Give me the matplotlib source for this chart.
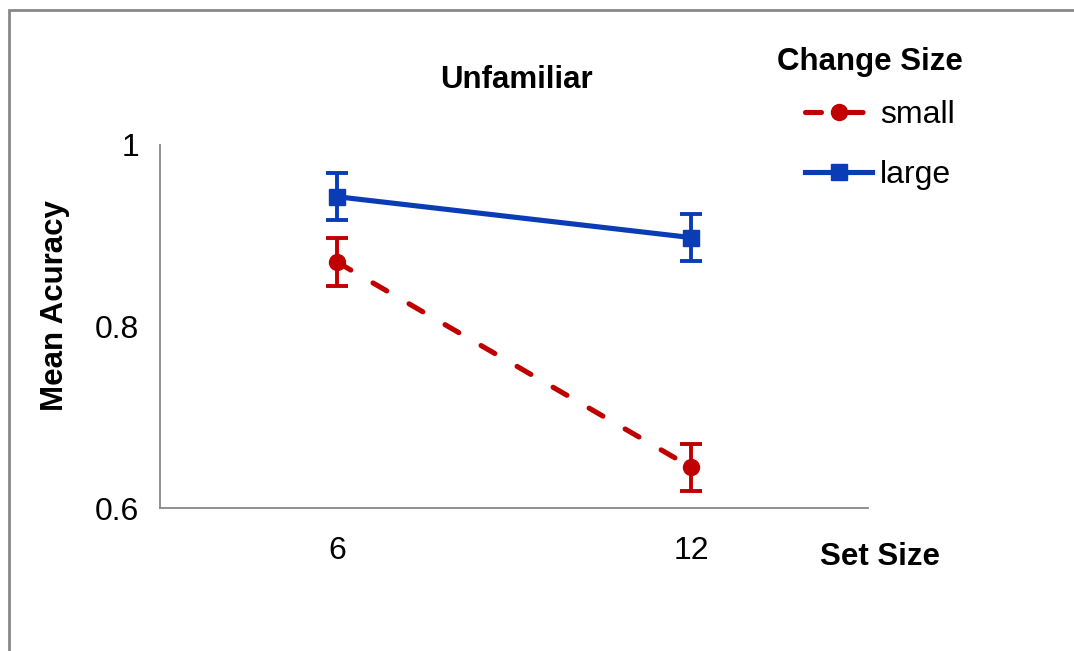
import matplotlib
matplotlib.use("Agg")
import matplotlib.pyplot as plt
from matplotlib.patches import Rectangle

plt.rcParams['font.family'] = ['Liberation Sans', 'DejaVu Sans']

set_sizes = ["6", "12"]
small_mean = [0.871, 0.645]
small_err = [0.026, 0.026]
large_mean = [0.943, 0.898]
large_err = [0.026, 0.026]

red = '#C00000'
blue = '#0A3DB5'
grey = '#888888'

fig = plt.figure(figsize=(10.74, 6.51), dpi=100)
ax = fig.add_axes([160/1074, 1-508/651, 708/1074, 363/651])

x = list(range(len(set_sizes)))
ax.errorbar(x, small_mean, yerr=small_err, color=red, lw=3.7, ls=(0, (3.1, 5.0)),
            marker='o', ms=11.5, capsize=8, capthick=2.8, elinewidth=2.8, label='small',
            dash_capstyle='round')
ax.errorbar(x, large_mean, yerr=large_err, color=blue, lw=3.7,
            marker='s', ms=11.5, capsize=8, capthick=2.8, elinewidth=2.8, label='large')

ax.set_xlim(-0.5, 1.5)
ax.set_ylim(0.6, 1.0)
ax.set_yticks([0.6, 0.8, 1.0])
ax.set_yticklabels(['0.6', '0.8', '1'])
ax.set_xticks(x)
ax.set_xticklabels(set_sizes)
ax.tick_params(length=0, labelsize=23)
ax.tick_params(axis='x', pad=20)
ax.tick_params(axis='y', pad=15)
for s in ['top', 'right']:
    ax.spines[s].set_visible(False)
for s in ['left', 'bottom']:
    ax.spines[s].set_color(grey)
    ax.spines[s].set_linewidth(1.3)

fig.text(516/1074, 1-80/651, 'Unfamiliar', ha='center', va='center',
         fontsize=22.5, fontweight='bold')
fig.text(55/1074, 1-306/651, 'Mean Acuracy', ha='center', va='center',
         rotation=90, fontsize=22.5, fontweight='bold')
fig.text(880/1074, 1-557/651, 'Set Size', ha='center', va='center',
         fontsize=22.5, fontweight='bold')
fig.text(870/1074, 1-62/651, 'Change Size', ha='center', va='center',
         fontsize=22.5, fontweight='bold')

handles, labels = ax.get_legend_handles_labels()
handles = [h[0] for h in handles]
leg = fig.legend(handles, labels, loc='upper left',
                 bbox_to_anchor=(805/1074, 1-100/651), frameon=False,
                 fontsize=23, handlelength=2.1, labelspacing=0.95,
                 handletextpad=0.25, borderaxespad=0, borderpad=0)

fig.patches.append(Rectangle((9/1074, -0.1), 1.2, 1-10/651 + 0.1,
                             transform=fig.transFigure, fill=False,
                             edgecolor=grey, lw=2))

fig.savefig('out.png', dpi=100)
